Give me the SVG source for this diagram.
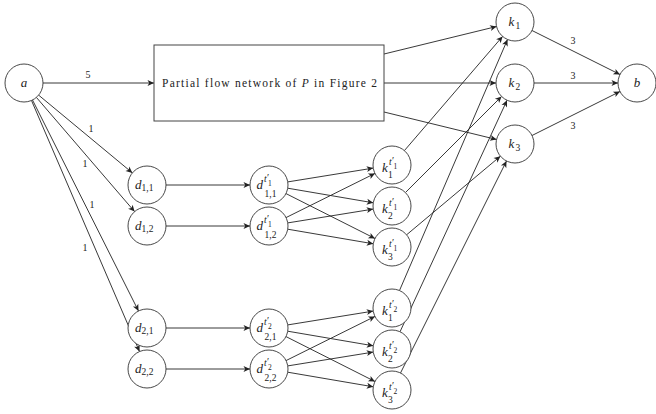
<svg xmlns="http://www.w3.org/2000/svg" width="656" height="414" viewBox="0 0 656 414" font-family="'Liberation Serif', 'DejaVu Serif', serif">
<defs>
<marker id="ar" viewBox="-7 -4 8 8" refX="0" refY="0" markerWidth="8" markerHeight="8" orient="auto" markerUnits="userSpaceOnUse">
<path d="M0,0 L-6.5,-3 L-4.8,0 L-6.5,3 Z" fill="#222"/>
</marker>
<style>
.n{fill:#fff;stroke:#333;stroke-width:0.9}
.bx{fill:#fff;stroke:#444;stroke-width:1}
.e{fill:none;stroke:#222;stroke-width:0.9;marker-end:url(#ar)}
.t{font-family:'Liberation Serif','DejaVu Serif',serif;fill:#222}
.m{font-style:italic;font-size:13px}
.s{font-size:9.5px;font-style:normal}
.ss{font-size:7.5px;font-style:normal}
.si{font-size:9.5px;font-style:italic}
.pr{font-size:10px;font-style:normal}
.w{font-size:10px;fill:#222}
.bt{font-size:11.5px}
</style>
</defs>
<g id="connectors">
<line class="e" x1="43" y1="83" x2="154" y2="83"/>
<line class="e" x1="38.6" y1="95.1" x2="132.4" y2="172.9"/>
<line class="e" x1="36.4" y1="97.4" x2="134.6" y2="211.6"/>
<line class="e" x1="32.5" y1="100" x2="138.5" y2="311"/>
<line class="e" x1="31.5" y1="100.5" x2="139.5" y2="351.5"/>
<line class="e" x1="166" y1="185" x2="250" y2="185"/>
<line class="e" x1="166" y1="226" x2="250" y2="226"/>
<line class="e" x1="166" y1="328" x2="250" y2="328"/>
<line class="e" x1="166" y1="369" x2="250" y2="369"/>
<line class="e" x1="287.8" y1="181.9" x2="373.2" y2="168.1"/>
<line class="e" x1="287.7" y1="188.2" x2="373.3" y2="202.8"/>
<line class="e" x1="286" y1="193.6" x2="375" y2="238.5"/>
<line class="e" x1="286" y1="217.6" x2="375" y2="173.4"/>
<line class="e" x1="287.8" y1="222.9" x2="373.2" y2="209.1"/>
<line class="e" x1="287.7" y1="229.2" x2="373.3" y2="243.8"/>
<line class="e" x1="287.8" y1="324.9" x2="373.2" y2="311.1"/>
<line class="e" x1="287.7" y1="331.2" x2="373.3" y2="345.8"/>
<line class="e" x1="286" y1="336.6" x2="375" y2="381.5"/>
<line class="e" x1="286" y1="360.6" x2="375" y2="316.4"/>
<line class="e" x1="287.8" y1="365.9" x2="373.2" y2="352.1"/>
<line class="e" x1="287.7" y1="372.2" x2="373.3" y2="386.8"/>
<line class="e" x1="404.4" y1="150.6" x2="502.6" y2="36.4"/>
<line class="e" x1="405.4" y1="192.6" x2="501.6" y2="96.4"/>
<line class="e" x1="406.6" y1="234.8" x2="500.4" y2="156.2"/>
<line class="e" x1="399.5" y1="290.5" x2="507.5" y2="39.5"/>
<line class="e" x1="400" y1="331.8" x2="507" y2="100.3"/>
<line class="e" x1="400.5" y1="373" x2="506.5" y2="161"/>
<line class="e" x1="384" y1="54" x2="496.6" y2="26.5"/>
<line class="e" x1="384" y1="83" x2="496" y2="83"/>
<line class="e" x1="384" y1="112" x2="496.6" y2="139.5"/>
<line class="e" x1="532" y1="30.5" x2="620" y2="74.5"/>
<line class="e" x1="534" y1="83" x2="618" y2="83"/>
<line class="e" x1="532" y1="135.5" x2="620" y2="91.5"/>
<text class="t w" x="88" y="77.5" text-anchor="middle">5</text>
<text class="t w" x="91" y="131.5" text-anchor="middle">1</text>
<text class="t w" x="85" y="166.5" text-anchor="middle">1</text>
<text class="t w" x="92" y="207.5" text-anchor="middle">1</text>
<text class="t w" x="85" y="250.5" text-anchor="middle">1</text>
<text class="t w" x="573" y="43.5" text-anchor="middle">3</text>
<text class="t w" x="573" y="78.5" text-anchor="middle">3</text>
<text class="t w" x="573" y="128.5" text-anchor="middle">3</text>
</g>
<g id="node-a"><circle class="n" cx="24" cy="83" r="19"/><text class="t m" x="24" y="86.5" text-anchor="middle">a</text></g>
<g id="node-b"><circle class="n" cx="637" cy="83" r="19"/><text class="t m" x="637" y="87" text-anchor="middle">b</text></g>
<g id="node-box"><rect class="bx" x="154" y="45" width="230" height="76"/><text class="t bt" x="162" y="87" textLength="215" lengthAdjust="spacing">Partial flow network of <tspan font-style="italic">P</tspan> in Figure 2</text></g>
<g id="node-k1"><circle class="n" cx="515" cy="22" r="19"/><text class="t m" x="508.5" y="26">k<tspan class="s" x="515.5" y="28.5">1</tspan></text></g>
<g id="node-k2"><circle class="n" cx="515" cy="83" r="19"/><text class="t m" x="508.5" y="87">k<tspan class="s" x="515.5" y="89.5">2</tspan></text></g>
<g id="node-k3"><circle class="n" cx="515" cy="144" r="19"/><text class="t m" x="508.5" y="148">k<tspan class="s" x="515.5" y="150.5">3</tspan></text></g>
<g id="node-d11"><circle class="n" cx="147" cy="185" r="19"/><text class="t m" x="135" y="188.5">d<tspan class="s" x="141.5" y="191">1,1</tspan></text></g>
<g id="node-d12"><circle class="n" cx="147" cy="226" r="19"/><text class="t m" x="135" y="229.5">d<tspan class="s" x="141.5" y="232">1,2</tspan></text></g>
<g id="node-d21"><circle class="n" cx="147" cy="328" r="19"/><text class="t m" x="135" y="331.5">d<tspan class="s" x="141.5" y="334">2,1</tspan></text></g>
<g id="node-d22"><circle class="n" cx="147" cy="369" r="19"/><text class="t m" x="135" y="372.5">d<tspan class="s" x="141.5" y="375">2,2</tspan></text></g>
<g id="node-e11"><circle class="n" cx="269" cy="185" r="19"/><text class="t m" x="256.5" y="189">d<tspan class="si" x="264" y="181.5">t</tspan><tspan class="pr" x="267" y="181">′</tspan><tspan class="ss" x="268" y="186">1</tspan><tspan class="s" x="264.5" y="196.5">1,1</tspan></text></g>
<g id="node-e12"><circle class="n" cx="269" cy="226" r="19"/><text class="t m" x="256.5" y="230">d<tspan class="si" x="264" y="222.5">t</tspan><tspan class="pr" x="267" y="222">′</tspan><tspan class="ss" x="268" y="227">1</tspan><tspan class="s" x="264.5" y="237.5">1,2</tspan></text></g>
<g id="node-e21"><circle class="n" cx="269" cy="328" r="19"/><text class="t m" x="256.5" y="332">d<tspan class="si" x="264" y="324.5">t</tspan><tspan class="pr" x="267" y="324">′</tspan><tspan class="ss" x="268" y="329">2</tspan><tspan class="s" x="264.5" y="339.5">2,1</tspan></text></g>
<g id="node-e22"><circle class="n" cx="269" cy="369" r="19"/><text class="t m" x="256.5" y="373">d<tspan class="si" x="264" y="365.5">t</tspan><tspan class="pr" x="267" y="365">′</tspan><tspan class="ss" x="268" y="370">2</tspan><tspan class="s" x="264.5" y="380.5">2,2</tspan></text></g>
<g id="node-p1"><circle class="n" cx="392" cy="165" r="19"/><text class="t m" x="382" y="172">k<tspan class="si" x="389" y="164.5">t</tspan><tspan class="pr" x="392" y="164">′</tspan><tspan class="ss" x="393.5" y="169">1</tspan><tspan class="s" x="388" y="178">1</tspan></text></g>
<g id="node-p2"><circle class="n" cx="392" cy="206" r="19"/><text class="t m" x="382" y="213">k<tspan class="si" x="389" y="205.5">t</tspan><tspan class="pr" x="392" y="205">′</tspan><tspan class="ss" x="393.5" y="210">1</tspan><tspan class="s" x="388" y="219">2</tspan></text></g>
<g id="node-p3"><circle class="n" cx="392" cy="247" r="19"/><text class="t m" x="382" y="254">k<tspan class="si" x="389" y="246.5">t</tspan><tspan class="pr" x="392" y="246">′</tspan><tspan class="ss" x="393.5" y="251">1</tspan><tspan class="s" x="388" y="260">3</tspan></text></g>
<g id="node-q1"><circle class="n" cx="392" cy="308" r="19"/><text class="t m" x="382" y="315">k<tspan class="si" x="389" y="307.5">t</tspan><tspan class="pr" x="392" y="307">′</tspan><tspan class="ss" x="393.5" y="312">2</tspan><tspan class="s" x="388" y="321">1</tspan></text></g>
<g id="node-q2"><circle class="n" cx="392" cy="349" r="19"/><text class="t m" x="382" y="356">k<tspan class="si" x="389" y="348.5">t</tspan><tspan class="pr" x="392" y="348">′</tspan><tspan class="ss" x="393.5" y="353">2</tspan><tspan class="s" x="388" y="362">2</tspan></text></g>
<g id="node-q3"><circle class="n" cx="392" cy="390" r="19"/><text class="t m" x="382" y="397">k<tspan class="si" x="389" y="389.5">t</tspan><tspan class="pr" x="392" y="389">′</tspan><tspan class="ss" x="393.5" y="394">2</tspan><tspan class="s" x="388" y="403">3</tspan></text></g>
</svg>
